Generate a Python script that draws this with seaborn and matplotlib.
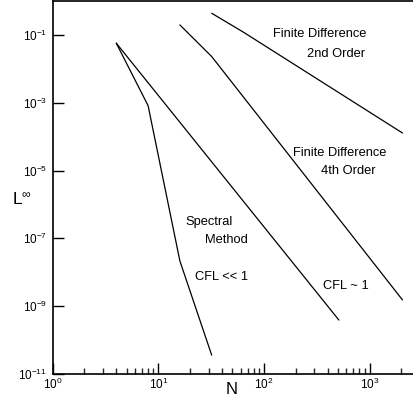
import matplotlib
matplotlib.use("Agg")
import matplotlib.pyplot as plt
import seaborn as sns
import pandas as pd
from matplotlib.ticker import LogLocator, LogFormatterSciNotation, NullFormatter, FixedLocator

# Data
spectral_N = [4, 8, 16, 32]
spectral_L = [0.057, 8.2e-4, 2.15e-8, 3.6e-11]

cfl1_N = [4, 512]
cfl1_L = [0.057, 3.9e-10]

fd4_N = [16, 32, 2048]
fd4_L = [0.197, 0.023, 1.53e-9]

fd2_N = [32, 64, 2048]
fd2_L = [0.435, 0.12, 1.28e-4]

series = {
    "spectral": (spectral_N, spectral_L),
    "cfl1": (cfl1_N, cfl1_L),
    "fd4": (fd4_N, fd4_L),
    "fd2": (fd2_N, fd2_L),
}

rows = []
for name, (ns, ls) in series.items():
    for i, (n, l) in enumerate(zip(ns, ls)):
        rows.append({"series": name, "N": n, "L": l, "order": i})
df = pd.DataFrame(rows)

sns.set_style("ticks")
plt.rcParams["font.family"] = ["Liberation Sans", "DejaVu Sans"]
plt.rcParams["mathtext.fontset"] = "custom"
plt.rcParams["mathtext.rm"] = "Liberation Sans"
plt.rcParams["mathtext.it"] = "Liberation Sans:italic"

fig = plt.figure(figsize=(4.14, 4.00), dpi=100)
ax = fig.add_axes([52.7 / 414, 26 / 400, (420 - 52.7) / 414, (374 - 1) / 400])

for name in series:
    sub = df[df["series"] == name]
    sns.lineplot(data=sub, x="N", y="L", ax=ax, color="black", lw=0.9,
                 sort=False, estimator=None)

ax.set_xscale("log")
ax.set_yscale("log")
ax.set_xlim(1, 3000)
ax.set_ylim(1e-11, 1)

ax.yaxis.set_major_locator(FixedLocator([1e-11, 1e-9, 1e-7, 1e-5, 1e-3, 1e-1]))
ax.yaxis.set_major_formatter(LogFormatterSciNotation())
ax.yaxis.set_minor_locator(FixedLocator([]))
ax.xaxis.set_major_locator(LogLocator(base=10, numticks=10))
ax.xaxis.set_minor_locator(LogLocator(base=10, subs=range(2, 10), numticks=20))
ax.xaxis.set_minor_formatter(NullFormatter())

ax.tick_params(axis="both", which="major", direction="in", length=8, width=1,
               labelsize=8.5, colors="black")
ax.tick_params(axis="x", which="minor", direction="in", length=4, width=1)
ax.tick_params(axis="y", which="major", pad=4)
ax.tick_params(axis="x", which="major", pad=2)

for s in ["left", "bottom", "top"]:
    ax.spines[s].set_linewidth(1.2)
    ax.spines[s].set_color("black")
ax.spines["right"].set_visible(False)

ax.set_xlabel("")
ax.set_ylabel("")


def put(px, py, s, size=9.3, ha="left"):
    fig.text(px / 414, 1 - py / 400, s, fontsize=size, color="black",
             va="center", ha=ha)


put(232, 389, "N", size=12, ha="center")
put(12, 200, r"L$^{\infty}$", size=12.5)

put(273, 34, "Finite Difference")
put(307, 54, "2nd Order")
put(293, 153, "Finite Difference")
put(321, 171, "4th Order")
put(185, 222, "Spectral")
put(205, 240, "Method")
put(195, 277, "CFL << 1")
put(323, 286, "CFL ~ 1")

fig.savefig("out.png", dpi=100)
